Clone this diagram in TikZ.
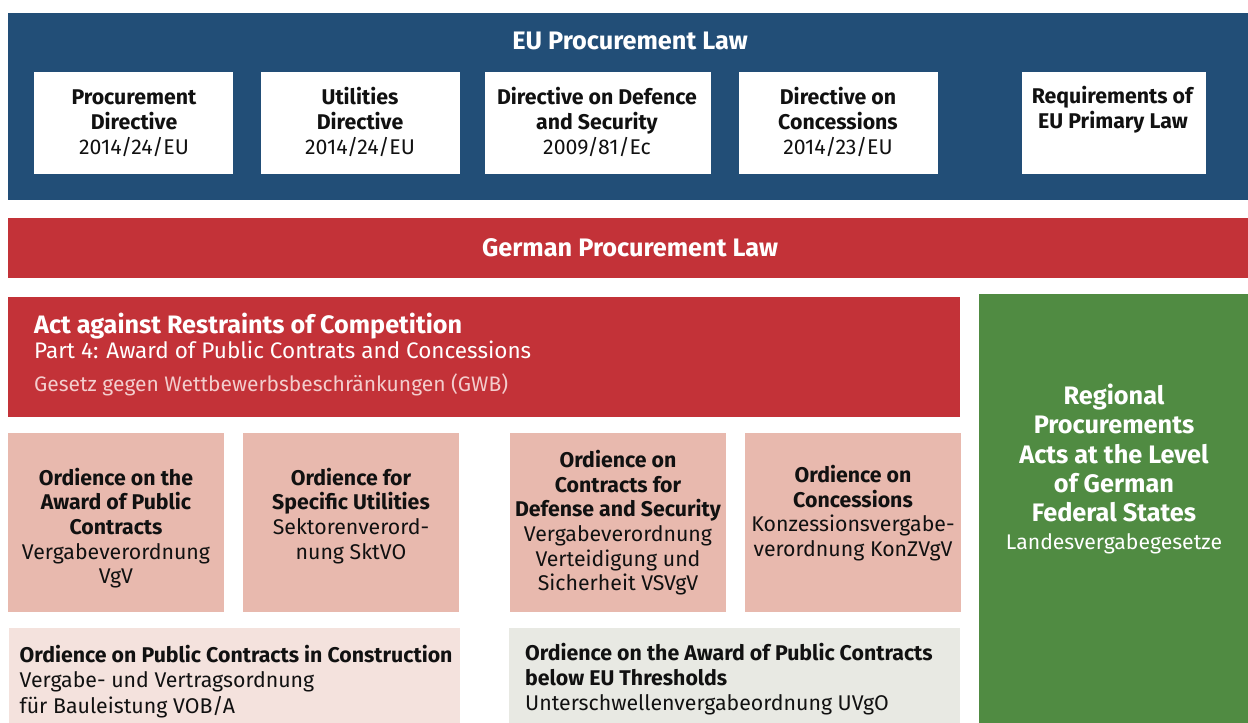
\documentclass[tikz,border=0pt]{standalone}
\usepackage{fontspec}
\setmainfont{Fira Sans}
\definecolor{eublue}{HTML}{224E77}
\definecolor{dered}{HTML}{C33238}
\definecolor{pinkbox}{HTML}{E8B9AE}
\definecolor{lightpink}{HTML}{F4E2DD}
\definecolor{lightgrey}{HTML}{E8E9E3}
\definecolor{regiongreen}{HTML}{508B42}
\definecolor{softpink}{HTML}{F3CDCD}
\definecolor{ink}{HTML}{111111}
\tikzset{
  panel/.style={fill=#1, draw=none, inner sep=0pt, outer sep=0pt},
  boxtext/.style={inner sep=0pt, align=center, text=ink, font=\fontsize{21.3}{24.7}\selectfont},
  dirtext/.style={inner sep=0pt, align=center, text=ink, font=\fontsize{21.3}{25}\selectfont},
  lefttext/.style={inner sep=0pt, align=left, text=ink, font=\fontsize{21.3}{#1}\selectfont},
  whitetitle/.style={inner sep=0pt, text=white, font=\fontsize{25.3}{30}\selectfont\bfseries},
}
\begin{document}
\begin{tikzpicture}[x=1pt,y=-1pt]
\useasboundingbox (0,0) rectangle (1248,723);
% EU block
\path[panel=eublue] (8,13) rectangle (1248,200);
\node[whitetitle, anchor=base] (eutitle) at (630,49.3) {EU Procurement Law};
\path[panel=white] (34,72) rectangle (233,174);
\path[panel=white] (261,72) rectangle (460,174);
\path[panel=white] (485,72) rectangle (711,174);
\path[panel=white] (739,72) rectangle (938,174);
\path[panel=white] (1022,72) rectangle (1206,174);
\node[dirtext, anchor=north] (d1) at (134,86.5) {\strut\textbf{Procurement}\\\textbf{Directive}\\2014/24/EU};
\node[dirtext, anchor=north] (d2) at (360,86.5) {\strut\textbf{Utilities}\\\textbf{Directive}\\2014/24/EU};
\node[dirtext, anchor=north] (d3) at (597,86.5) {\strut\textbf{Directive on Defence}\\\textbf{and Security}\\2009/81/Ec};
\node[dirtext, anchor=north] (d4) at (838,86.5) {\strut\textbf{Directive on}\\\textbf{Concessions}\\2014/23/EU};
\node[dirtext, anchor=north] (d5) at (1113,85.5) {\strut\textbf{Requirements of}\\\textbf{EU Primary Law}};
% German bar
\path[panel=dered] (8,218) rectangle (1248,278);
\node[whitetitle, anchor=base] (detitle) at (630,256) {German Procurement Law};
% GWB
\path[panel=dered] (8,297) rectangle (960,417);
\node[inner sep=0pt, anchor=base west, text=white, font=\fontsize{25.2}{30}\selectfont\bfseries] (gwb1) at (34,333.5) {Act against Restraints of Competition};
\node[inner sep=0pt, anchor=base west, text=white, font=\fontsize{22.5}{27}\selectfont] (gwb2) at (34,358.3) {Part 4: Award of Public Contrats and Concessions};
\node[inner sep=0pt, anchor=base west, text=softpink, font=\fontsize{21}{25}\selectfont] (gwb3) at (34,391) {Gesetz gegen Wettbewerbsbeschränkungen (GWB)};
% pink boxes
\path[panel=pinkbox] (8,433) rectangle (224,612);
\path[panel=pinkbox] (243,433) rectangle (459,612);
\path[panel=pinkbox] (510,433) rectangle (726,612);
\path[panel=pinkbox] (745,433) rectangle (961,612);
\node[boxtext, anchor=north] (vgv) at (116,467.7) {\strut\textbf{Ordience on the}\\\textbf{Award of Public}\\\textbf{Contracts}\\Vergabeverordnung\\VgV};
\node[boxtext, anchor=north] (sktvo) at (351,467.7) {\strut\textbf{Ordience for}\\\textbf{Specific Utilities}\\Sektorenverord-\\nung SktVO};
\node[boxtext, anchor=north] (vsvgv) at (618,450) {\strut\textbf{Ordience on}\\\textbf{Contracts for}\\\textbf{Defense and Security}\\Vergabeverordnung\\Verteidigung und\\Sicherheit VSVgV};
\node[boxtext, anchor=north] (konz) at (853,465) {\strut\textbf{Ordience on}\\\textbf{Concessions}\\Konzessionsvergabe-\\verordnung KonZVgV};
% bottom boxes
\path[panel=lightpink] (9,628) rectangle (460,723);
\path[panel=lightgrey] (509,628) rectangle (960,723);
\node[lefttext=25.3, anchor=north west] (vob) at (19.5,644.5) {\strut\textbf{Ordience on Public Contracts in Construction}\\Vergabe- und Vertragsordnung\\für Bauleistung VOB/A};
\node[lefttext=24.6, anchor=north west] (uvgo) at (525,643.5) {\strut\textbf{Ordience on the Award of Public Contracts}\\\textbf{below EU Thresholds}\\Unterschwellenvergabeordnung UVgO};
% green
\path[panel=regiongreen] (979,294) rectangle (1248,723);
\node[inner sep=0pt, anchor=north, align=center, text=white, font=\fontsize{25.3}{29.2}\selectfont\bfseries] (reg) at (1114,383.9) {\strut Regional\\Procurements\\Acts at the Level\\of German\\Federal States};
\node[inner sep=0pt, anchor=base, text=white, font=\fontsize{21.2}{25}\selectfont] (lvg) at (1114,549.3) {Landesvergabegesetze};
\end{tikzpicture}
\end{document}
